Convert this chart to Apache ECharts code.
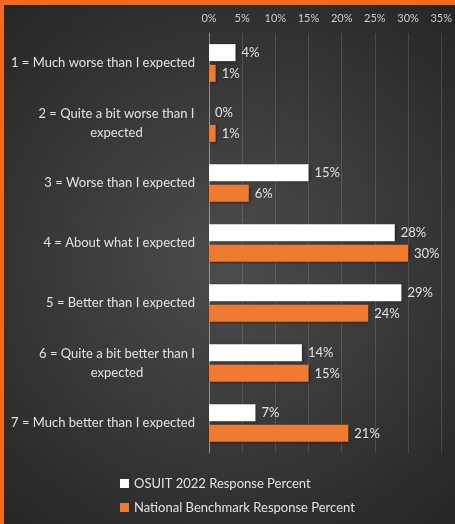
<!DOCTYPE html>
<html>
<head>
<meta charset="utf-8">
<script src="https://cdn.jsdelivr.net/npm/echarts@6/dist/echarts.min.js"></script>
<style>
  html, body { margin: 0; padding: 0; background: #2b2b2b; }
  #chart { width: 455px; height: 524px; }
</style>
</head>
<body>
<div id="chart"></div>
<script>
// Survey responses: how the experience compared with expectations
const categories = [
  '1 = Much worse than I expected',
  '2 = Quite a bit worse than I\nexpected',
  '3 = Worse than I expected',
  '4 = About what I expected',
  '5 = Better than I expected',
  '6 = Quite a bit better than I\nexpected',
  '7 = Much better than I expected'
];
const osuitValues = [4, 0, 15, 28, 29, 14, 7];
const nationalValues = [1, 1, 6, 30, 24, 15, 21];
const seriesNames = ['OSUIT 2022 Response Percent', 'National Benchmark Response Percent'];
const axisMax = 35;
const axisStep = 5;

const labelFont = '13px Lato';
const textColor = '#e2e2e2';
const orange = '#f07a30';

// Wrapped category names keep their lines centred on each other
const measure = document.createElement('canvas').getContext('2d');
measure.font = labelFont;
function widestLine(value) {
  return Math.ceil(Math.max(...value.split('\n').map(l => measure.measureText(l).width)));
}
function categoryLabel(value) {
  const lines = value.split('\n');
  if (lines.length === 1) return value;
  const w = widestLine(value);
  return lines.map(l => '{c' + w + '|' + l + '}').join('\n');
}
const rich = {};
categories.forEach(c => {
  if (c.indexOf('\n') >= 0) {
    const w = widestLine(c);
    rich['c' + w] = { width: w, align: 'center', color: textColor, fontSize: 13, fontFamily: 'Lato', lineHeight: 19 };
  }
});

const valueLabel = {
  show: true, position: 'right', distance: 6, color: textColor,
  fontSize: 13, fontFamily: 'Lato', formatter: p => p.value + '%'
};

const chart = echarts.init(document.getElementById('chart'), null, { renderer: 'canvas' });
chart.setOption({
  backgroundColor: {
    type: 'radial', x: 0.5, y: 0.5, r: 0.75,
    colorStops: [
      { offset: 0, color: '#4c4c4c' },
      { offset: 1, color: '#262626' }
    ]
  },
  animation: false,
  graphic: [
    { type: 'rect', left: 0, top: 0, shape: { width: 455, height: 5 }, style: { fill: '#f26a21' }, z: 100 },
    { type: 'rect', left: 0, top: 0, shape: { width: 4, height: 524 }, style: { fill: '#f26a21' }, z: 100 }
  ],
  grid: { left: 209, right: 6, top: 33, bottom: 71, containLabel: false },
  legend: {
    orient: 'vertical',
    left: 115,
    top: 472,
    itemWidth: 9,
    itemHeight: 9,
    itemGap: 11,
    icon: 'rect',
    textStyle: { color: textColor, fontSize: 13, fontFamily: 'Lato' },
    data: seriesNames
  },
  xAxis: {
    type: 'value',
    position: 'top',
    min: 0,
    max: axisMax,
    interval: axisStep,
    axisLine: { show: false },
    axisTick: { show: false },
    splitLine: { show: true, lineStyle: { color: 'rgba(255,255,255,0.13)', width: 1 } },
    axisLabel: {
      color: '#cccccc', fontSize: 11, fontFamily: 'Lato', margin: 9,
      formatter: v => v + '%'
    }
  },
  yAxis: {
    type: 'category',
    inverse: true,
    data: categories,
    axisLine: { show: true, lineStyle: { color: 'rgba(255,255,255,0.35)' } },
    axisTick: { show: false },
    axisLabel: {
      color: textColor, fontSize: 13, fontFamily: 'Lato', margin: 14, lineHeight: 19,
      formatter: categoryLabel, rich: rich
    }
  },
  series: [
    {
      name: seriesNames[0],
      type: 'bar',
      data: osuitValues,
      barWidth: 17,
      barGap: '22%',
      itemStyle: { color: '#ffffff', shadowColor: 'rgba(0,0,0,0.45)', shadowBlur: 3, shadowOffsetX: 1, shadowOffsetY: 1 },
      label: valueLabel
    },
    {
      name: seriesNames[1],
      type: 'bar',
      data: nationalValues,
      barWidth: 17,
      itemStyle: { color: orange, shadowColor: 'rgba(0,0,0,0.45)', shadowBlur: 3, shadowOffsetX: 1, shadowOffsetY: 1 },
      label: valueLabel
    }
  ]
});
</script>
</body>
</html>
